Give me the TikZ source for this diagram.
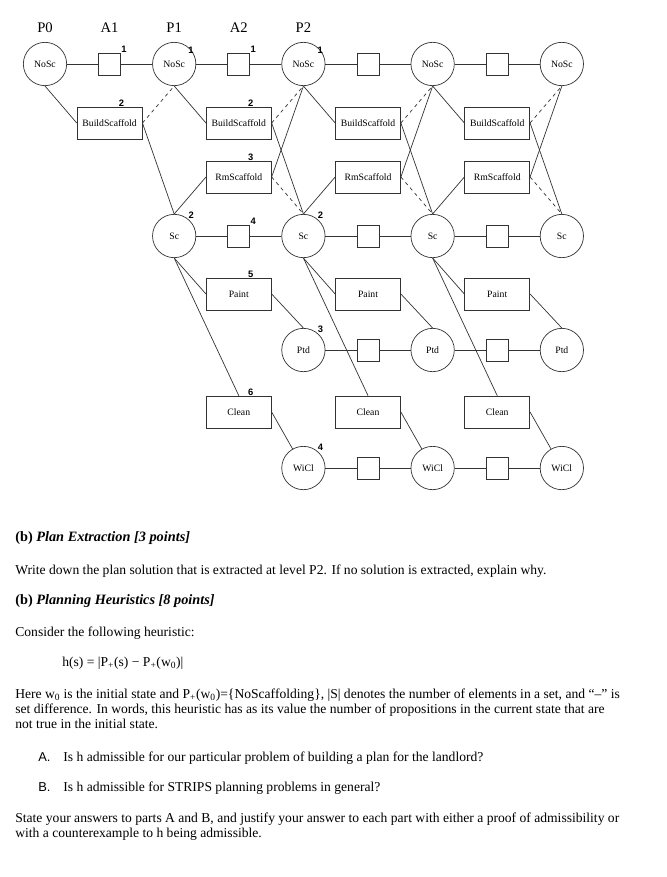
\documentclass[tikz,border=0pt]{standalone}
\usepackage{fontspec}
\setmainfont{Liberation Serif}
\newfontfamily\numfont{Liberation Sans}
\usetikzlibrary{positioning}

\tikzset{
  prop/.style={circle, draw=black!80, minimum size=1.3cm, inner sep=0pt, font=\fontsize{8.3}{9}\selectfont},
  act/.style={rectangle, draw=black!80, minimum width=1.95cm, minimum height=0.96cm, inner sep=0pt, font=\fontsize{8.3}{9}\selectfont},
  noop/.style={rectangle, draw=black!80, minimum size=0.66cm, inner sep=0pt},
  num/.style={font=\numfont\bfseries\fontsize{8}{8}\selectfont, inner sep=0pt},
  level/.style={font=\fontsize{12.5}{14}\selectfont},
  mutex/.style={dashed},
  para/.style={anchor=base west, inner sep=0pt, align=left, font=\fontsize{11.6}{12.75}\selectfont},
  head/.style={para, font=\bfseries\fontsize{12.2}{14}\selectfont},
  item/.style={para, font=\numfont\fontsize{11}{12}\selectfont},
}

\begin{document}
\begin{tikzpicture}[x=0.03cm, y=-0.03cm, on grid, node distance=1.938cm, line width=0.6pt]
    \useasboundingbox (0,0) rectangle (666,877);

    % NoSc level
    \node[prop] (nosc0) at (45,64) {NoSc};
    \node[noop, right=of nosc0, label={[num]north east:1}] (nnosc1) {};
    \node[prop, right=of nnosc1, label={[num, anchor=center]40:1}] (nosc1) {NoSc};
    \node[noop, right=of nosc1, label={[num]north east:1}] (nnosc2) {};
    \node[prop, right=of nnosc2, label={[num, anchor=center]40:1}] (nosc2) {NoSc};
    \node[noop, right=of nosc2] (nnosc3) {};
    \node[prop, right=of nnosc3] (nosc3) {NoSc};
    \node[noop, right=of nosc3] (nnosc4) {};
    \node[prop, right=of nnosc4] (nosc4) {NoSc};

    \node[level, above=1.1cm of nosc0] (p0) {P0};
    \node[level, above=1.1cm of nnosc1] (a1) {A1};
    \node[level, above=1.1cm of nosc1] (p1) {P1};
    \node[level, above=1.1cm of nnosc2] (a2) {A2};
    \node[level, above=1.1cm of nosc2] (p2) {P2};

    % scaffold actions
    \node[act, below=1.77cm of nnosc1, label={[num, xshift=3.6mm]above:2}] (build1) {BuildScaffold};
    \node[act, below=1.77cm of nnosc2, label={[num, xshift=3.6mm]above:2}] (build2) {BuildScaffold};
    \node[act, below=1.77cm of nnosc3] (build3) {BuildScaffold};
    \node[act, below=1.77cm of nnosc4] (build4) {BuildScaffold};
    \node[act, below=1.62cm of build2, label={[num, xshift=3.6mm]above:3}] (rm2) {RmScaffold};
    \node[act, below=1.62cm of build3] (rm3) {RmScaffold};
    \node[act, below=1.62cm of build4] (rm4) {RmScaffold};

    % Sc level
    \node[prop, below=5.16cm of nosc1, label={[num]50:2}] (sc1) {Sc};
    \node[noop, right=of sc1, label={[num]north east:4}] (nsc2) {};
    \node[prop, right=of nsc2, label={[num]50:2}] (sc2) {Sc};
    \node[noop, right=of sc2] (nsc3) {};
    \node[prop, right=of nsc3] (sc3) {Sc};
    \node[noop, right=of sc3] (nsc4) {};
    \node[prop, right=of nsc4] (sc4) {Sc};

    \node[act, below=1.74cm of nsc2, label={[num, xshift=3.6mm]above:5}] (paint2) {Paint};
    \node[act, below=1.74cm of nsc3] (paint3) {Paint};
    \node[act, below=1.74cm of nsc4] (paint4) {Paint};

    % Ptd level
    \node[prop, below=3.42cm of sc2, label={[num]50:3}] (ptd2) {Ptd};
    \node[noop, right=of ptd2] (nptd3) {};
    \node[prop, right=of nptd3] (ptd3) {Ptd};
    \node[noop, right=of ptd3] (nptd4) {};
    \node[prop, right=of nptd4] (ptd4) {Ptd};

    \node[act, below=3.54cm of paint2, label={[num, xshift=3.6mm]above:6}] (clean2) {Clean};
    \node[act, below=3.54cm of paint3] (clean3) {Clean};
    \node[act, below=3.54cm of paint4] (clean4) {Clean};

    % WiCl level
    \node[prop, below=3.54cm of ptd2, label={[num]50:4}] (wicl2) {WiCl};
    \node[noop, right=of wicl2] (nwicl3) {};
    \node[prop, right=of nwicl3] (wicl3) {WiCl};
    \node[noop, right=of wicl3] (nwicl4) {};
    \node[prop, right=of nwicl4] (wicl4) {WiCl};

    % persistence
    \begin{scope}[black!80]
    \draw (nosc0) -- (nnosc1) (nnosc1) -- (nosc1) (nosc1) -- (nnosc2) (nnosc2) -- (nosc2)
          (nosc2) -- (nnosc3) (nnosc3) -- (nosc3) (nosc3) -- (nnosc4) (nnosc4) -- (nosc4);
    \draw (sc1) -- (nsc2) (nsc2) -- (sc2) (sc2) -- (nsc3) (nsc3) -- (sc3) (sc3) -- (nsc4) (nsc4) -- (sc4);
    \draw (ptd2) -- (nptd3) (nptd3) -- (ptd3) (ptd3) -- (nptd4) (nptd4) -- (ptd4);
    \draw (wicl2) -- (nwicl3) (nwicl3) -- (wicl3) (wicl3) -- (nwicl4) (nwicl4) -- (wicl4);

    % preconditions, effects and mutexes
    \draw (nosc0.south) -- (build1.west);
    \draw[mutex] (build1.east) -- (nosc1.south);
    \draw (build1.east) -- (sc1.north);

    \draw (nosc1.south) -- (build2.west);
    \draw (sc1.north) -- (rm2.west);
    \draw[mutex] (build2.east) -- (nosc2.south);
    \draw (build2.east) -- (sc2.north);
    \draw (rm2.east) -- (nosc2.south);
    \draw[mutex] (rm2.east) -- (sc2.north);

    \draw (nosc2.south) -- (build3.west);
    \draw (sc2.north) -- (rm3.west);
    \draw[mutex] (build3.east) -- (nosc3.south);
    \draw (build3.east) -- (sc3.north);
    \draw (rm3.east) -- (nosc3.south);
    \draw[mutex] (rm3.east) -- (sc3.north);

    \draw (nosc3.south) -- (build4.west);
    \draw (sc3.north) -- (rm4.west);
    \draw[mutex] (build4.east) -- (nosc4.south);
    \draw (build4.east) -- (sc4.north);
    \draw (rm4.east) -- (nosc4.south);
    \draw[mutex] (rm4.east) -- (sc4.north);

    \draw (sc1.south) -- (paint2.west);
    \draw (sc1.south) -- (clean2.north);
    \draw (paint2.east) -- (ptd2.north);
    \draw (clean2.east) -- (wicl2);

    \draw (sc2.south) -- (paint3.west);
    \draw (sc2.south) -- (clean3.north);
    \draw (paint3.east) -- (ptd3.north);
    \draw (clean3.east) -- (wicl3);

    \draw (sc3.south) -- (paint4.west);
    \draw (sc3.south) -- (clean4.north);
    \draw (paint4.east) -- (ptd4.north);
    \draw (clean4.east) -- (wicl4);
    \end{scope}

    % questions (base = last line)
    \node[head] (extract) at (15,541) {(b) \itshape Plan Extraction [3 points]};
    \node[para] (task) at (15,574) {Write down the plan solution that is extracted at level P2. If no solution is extracted, explain why.};
    \node[head] (heur) at (15,604) {(b) \itshape Planning Heuristics [8 points]};
    \node[para] (consider) at (15,636) {Consider the following heuristic:};
    \node[para] (hdef) at (62,666) {h(s) = |P\textsubscript{+}(s) − P\textsubscript{+}(w\textsubscript{0})|};
    \node[para] (here) at (15,728) {Here w\textsubscript{0} is the initial state and P\textsubscript{+}(w\textsubscript{0})=\{NoScaffolding\}, |S| denotes the number of elements in a set, and “–” is\\
        set difference. In words, this heuristic has as its value the number of propositions in the current state that are\\
        not true in the initial state.};
    \node[item] (qa) at (38,761) {A.};
    \node[para] (qatext) at (63,761) {Is h admissible for our particular problem of building a plan for the landlord?};
    \node[item] (qb) at (38,791) {B.};
    \node[para] (qbtext) at (63,791) {Is h admissible for STRIPS planning problems in general?};
    \node[para] (state) at (15,837) {State your answers to parts A and B, and justify your answer to each part with either a proof of admissibility or\\
        with a counterexample to h being admissible.};
\end{tikzpicture}
\end{document}
